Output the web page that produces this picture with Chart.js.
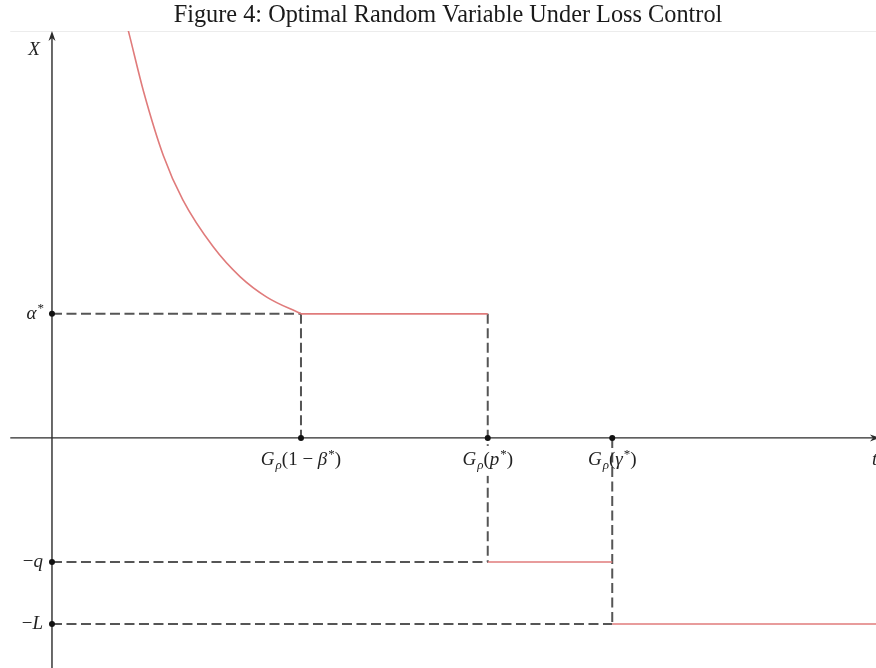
<!DOCTYPE html>
<html>
<head>
<meta charset="utf-8">
<script src="https://cdn.jsdelivr.net/npm/chart.js@4"></script>
<style>
  body { margin: 0; background: #fff; }
  #wrap { width: 876px; height: 668px; position: relative; }
</style>
</head>
<body>
<div id="wrap"><canvas id="myChart"></canvas></div>
<script>
// values (t along the horizontal axis, X up the vertical one)
const curveT = [1.18, 1.23, 1.47, 1.79, 2.10, 2.59, 3.02, 3.45, 4.00];
const curveX = [6.74, 6.55, 5.59, 4.55, 3.84, 3.08, 2.60, 2.27, 2.00];

const tickT = [4, 7, 9];          // G(1-β*), G(p*), G(γ*)
const levelX = [2, -2, -3];       // α*, -q, -L
const stepEnd = [7, 9, 13.4];     // red flat parts: from tickT[i] to stepEnd[i] at levelX[i]
const guideTop = [2, 2, 0];       // vertical dashed guides at tickT[i]
const guideBottom = [0, -2, -3];

const tRange = [-0.835, 13.237];
const xRange = [-3.71, 6.56];
const tAxis = [-0.67, 13.3];

const titleText = 'Figure 4: Optimal Random Variable Under Loss Control';
const xTickLabels = [
    [['G', 'i'], ['ρ', 'sub'], ['(1 − ', 'r'], ['β', 'i'], ['*', 'sup'], [')', 'r']],
    [['G', 'i'], ['ρ', 'sub'], ['(', 'r'], ['p', 'i'], ['*', 'sup'], [')', 'r']],
    [['G', 'i'], ['ρ', 'sub'], ['(', 'r'], ['γ', 'i'], ['*', 'sup'], [')', 'r']]
];
const yTickLabels = [
    [['α', 'i'], ['*', 'sup']],
    [['−', 'r'], ['q', 'i']],
    [['−', 'r'], ['L', 'i']]
];

const RED = '#e07b7b';
const GUIDE = '#555555';
const SERIF = '"Liberation Serif", "DejaVu Serif", serif';

function partFont(style) {
    if (style == 'i') return 'italic 19px ' + SERIF;
    if (style == 'sub') return 'italic 13px ' + SERIF;
    if (style == 'sup') return '13px ' + SERIF;
    return '19px ' + SERIF;
}

function mathWidth(ctx, parts) {
    let w = 0;
    for (const p of parts) {
        ctx.font = partFont(p[1]);
        w += ctx.measureText(p[0]).width;
        if (p[1] == 'i') w += 1;
    }
    return w;
}

function drawMath(ctx, parts, x, y) {
    let cx = x;
    for (const p of parts) {
        ctx.font = partFont(p[1]);
        let dy = 0;
        if (p[1] == 'sub') dy = 4;
        if (p[1] == 'sup') dy = -7;
        ctx.fillText(p[0], cx, y + dy);
        cx += ctx.measureText(p[0]).width;
        if (p[1] == 'i') cx += 1;
    }
}

const axesPlugin = {
    id: 'axesPlugin',
    beforeDatasetsDraw(chart) {
        const ctx = chart.ctx;
        const xs = chart.scales.x;
        const ys = chart.scales.y;
        const area = chart.chartArea;
        const x0 = xs.getPixelForValue(0);
        const y0 = ys.getPixelForValue(0);
        ctx.save();
        // title and the faint rule under it
        ctx.fillStyle = '#1a1a1a';
        ctx.font = '24.3px ' + SERIF;
        ctx.textAlign = 'center';
        ctx.textBaseline = 'alphabetic';
        ctx.fillText(titleText, (area.left + area.right) / 2 + 10, area.top - 9);

        ctx.strokeStyle = '#ececec';
        ctx.lineWidth = 1;
        ctx.beginPath();
        ctx.moveTo(xs.getPixelForValue(tAxis[0]), area.top + 0.5);
        ctx.lineTo(area.right, area.top + 0.5);
        ctx.stroke();

        ctx.strokeStyle = '#2b2b2b';
        ctx.fillStyle = '#2b2b2b';
        ctx.lineWidth = 1.4;
        ctx.beginPath();
        ctx.moveTo(x0, area.bottom);
        ctx.lineTo(x0, area.top + 4);
        ctx.moveTo(xs.getPixelForValue(tAxis[0]), y0);
        ctx.lineTo(xs.getPixelForValue(tAxis[1]) - 4, y0);
        ctx.stroke();
        // arrow heads
        ctx.beginPath();
        ctx.moveTo(x0, area.top);
        ctx.lineTo(x0 - 3.5, area.top + 10);
        ctx.lineTo(x0, area.top + 7);
        ctx.lineTo(x0 + 3.5, area.top + 10);
        ctx.closePath();
        ctx.fill();
        const xe = xs.getPixelForValue(tAxis[1]);
        ctx.beginPath();
        ctx.moveTo(xe, y0);
        ctx.lineTo(xe - 10, y0 - 3.5);
        ctx.lineTo(xe - 7, y0);
        ctx.lineTo(xe - 10, y0 + 3.5);
        ctx.closePath();
        ctx.fill();
        ctx.restore();
    },
    afterDatasetsDraw(chart) {
        const ctx = chart.ctx;
        const xs = chart.scales.x;
        const ys = chart.scales.y;
        const area = chart.chartArea;
        const x0 = xs.getPixelForValue(0);
        const y0 = ys.getPixelForValue(0);
        ctx.save();
        ctx.fillStyle = '#222';
        ctx.textBaseline = 'alphabetic';
        ctx.textAlign = 'left';

        for (let i = 0; i < tickT.length; i++) {
            const px = xs.getPixelForValue(tickT[i]);
            const w = mathWidth(ctx, xTickLabels[i]);
            const left = px - w / 2;
            const base = y0 + 27;
            // a guide running through the axis gets cut by its label
            if (guideTop[i] > 0 && guideBottom[i] < 0) {
                ctx.fillStyle = '#fff';
                ctx.fillRect(left - 3, base - 19, w + 6, 30);
                ctx.fillStyle = '#222';
            }
            drawMath(ctx, xTickLabels[i], left, base);
        }
        for (let i = 0; i < levelX.length; i++) {
            const py = ys.getPixelForValue(levelX[i]);
            const w = mathWidth(ctx, yTickLabels[i]);
            drawMath(ctx, yTickLabels[i], x0 - 8 - w, py + 5);
        }
        // axis names
        ctx.font = 'italic 19px ' + SERIF;
        ctx.textAlign = 'right';
        ctx.fillText('X', x0 - 12, area.top + 24);
        ctx.textAlign = 'left';
        ctx.fillText('t', area.right - 4, y0 + 27);
        ctx.restore();
    }
};

const datasets = [];

// black dots on the axes
const dots = [];
for (let i = 0; i < levelX.length; i++) dots.push({x: 0, y: levelX[i]});
for (let i = 0; i < tickT.length; i++) dots.push({x: tickT[i], y: 0});
datasets.push({
    data: dots,
    showLine: false,
    pointRadius: 3,
    pointBackgroundColor: '#111',
    pointBorderWidth: 0
});

// red curve and flat pieces
const curveData = [];
for (let i = 0; i < curveT.length; i++) curveData.push({x: curveT[i], y: curveX[i]});
datasets.push({
    data: curveData,
    showLine: true,
    borderColor: RED,
    borderWidth: 1.6,
    pointRadius: 0,
    cubicInterpolationMode: 'monotone'
});
for (let i = 0; i < tickT.length; i++) {
    datasets.push({
        data: [{x: tickT[i], y: levelX[i]}, {x: stepEnd[i], y: levelX[i]}],
        showLine: true,
        borderColor: RED,
        borderWidth: 1.6,
        pointRadius: 0
    });
}

// dashed guides
for (let i = 0; i < levelX.length; i++) {
    datasets.push({
        data: [{x: 0, y: levelX[i]}, {x: tickT[i], y: levelX[i]}],
        showLine: true,
        borderColor: GUIDE,
        borderWidth: 2,
        borderDash: [10, 4.5],
        pointRadius: 0
    });
    datasets.push({
        data: [{x: tickT[i], y: guideTop[i]}, {x: tickT[i], y: guideBottom[i]}],
        showLine: true,
        borderColor: GUIDE,
        borderWidth: 2,
        borderDash: [10, 4.5],
        pointRadius: 0
    });
}

const ctx = document.getElementById('myChart').getContext('2d');
const myChart = new Chart(ctx, {
    type: 'scatter',
    data: { datasets: datasets },
    options: {
        responsive: true,
        maintainAspectRatio: false,
        animation: false,
        layout: { padding: { top: 31, left: 0, right: 0, bottom: 0 }, autoPadding: false },
        plugins: {
            legend: { display: false },
            tooltip: { enabled: false },
            title: { display: false }
        },
        scales: {
            x: { type: 'linear', display: false, min: tRange[0], max: tRange[1] },
            y: { type: 'linear', display: false, min: xRange[0], max: xRange[1] }
        }
    },
    plugins: [axesPlugin]
});
</script>
</body>
</html>
